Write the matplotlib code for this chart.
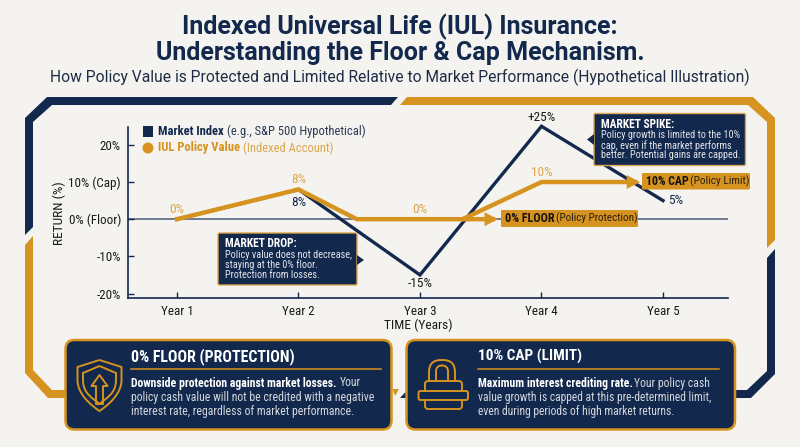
import matplotlib
matplotlib.use('Agg')
import matplotlib.pyplot as plt
from matplotlib import font_manager as fm
from matplotlib.patches import Polygon, FancyBboxPatch, Circle, Rectangle, PathPatch
from matplotlib.path import Path

NAVY = '#12284c'
GOLD = '#d6931f'
LIGHT_GOLD = '#dca64d'
BG = '#f4f3ef'

years = ['Year 1', 'Year 2', 'Year 3', 'Year 4', 'Year 5']
year_x = [1, 2, 3, 4, 5]
market = [0, 8, -15, 25, 5]
policy_x = [1, 2, 2.48, 3.6]
policy = [0, 8, 0, 0]
policy2_x = [3.35, 4, 4.77]
policy2 = [0, 10, 10]
y_ticks = [20, 10, 0, -10, -20]
y_labels = ['20%', '10% (Cap)', '0% (Floor)', '-10%', '-20%']

# narrow face for the small text when there is one
installed = {f.name for f in fm.fontManager.ttflist}
NARROW = next(n for n in ['Roboto Condensed', 'Archivo Narrow', 'Roboto', 'DejaVu Sans'] if n in installed)
plt.rcParams['font.family'] = NARROW

fig = plt.figure(figsize=(8, 4.47), dpi=100, facecolor=BG)
# overlay in pixel coordinates for the frame and boxes
bg = fig.add_axes([0, 0, 1, 1])
bg.set_xlim(0, 800)
bg.set_ylim(447, 0)
bg.axis('off')

# titles
bg.text(400, 27, 'Indexed Universal Life (IUL) Insurance:', color=NAVY, fontsize=18, ha='center', va='center', weight='bold', family='Roboto')
bg.text(400, 53, 'Understanding the Floor & Cap Mechanism.', color=NAVY, fontsize=18, ha='center', va='center', weight='bold', family='Roboto')
bg.text(400, 77, 'How Policy Value is Protected and Limited Relative to Market Performance (Hypothetical Illustration)',
        color='#1d2c44', fontsize=11.25, ha='center', va='center', family='Roboto')

# frame
bg.add_patch(Polygon([(398, 97), (47, 97), (25, 118), (25, 235), (33, 227), (33, 122), (52, 105), (391, 105)], color=NAVY, lw=0))
bg.add_patch(Polygon([(25, 245), (33, 236), (33, 370), (52, 390), (70, 390), (70, 398), (48, 398), (25, 373)], color=GOLD, lw=0))
bg.add_patch(Polygon([(400, 105), (407, 97), (753, 97), (775, 118), (775, 240), (767, 248), (767, 122), (748, 105)], color=GOLD, lw=0))
bg.add_patch(Polygon([(767, 258), (775, 249), (775, 374), (751, 398), (730, 398), (730, 390), (747, 390), (767, 371)], color=NAVY, lw=0))
bg.add_patch(Polygon([(392.5, 389), (399, 389), (395, 396)], color=GOLD, lw=0))
bg.add_patch(Polygon([(400, 398), (405.5, 392), (407, 398)], color=NAVY, lw=0))

# chart
ax = fig.add_axes([128 / 800, 1 - 298 / 447, 600 / 800, 171 / 447])
ax.patch.set_alpha(0)
ax.set_xlim(0.597, 5.535)
ax.set_ylim(-21.2, 24.8)
for s in ['top', 'right']:
    ax.spines[s].set_visible(False)
for s in ['left', 'bottom']:
    ax.spines[s].set_color(NAVY)
    ax.spines[s].set_linewidth(1.2)
ax.set_xticks(year_x, years, fontsize=9.4, color='#1a1a1a')
ax.set_yticks(y_ticks, y_labels, fontsize=9.4, color='#1a1a1a')
ax.tick_params(axis='x', direction='in', length=4, width=1, color=NAVY, pad=5)
ax.tick_params(axis='y', direction='in', length=4, width=1, color=NAVY, pad=5)
ax.set_xlabel('TIME (Years)', fontsize=9.6, color='#1a1a1a', va='center')
ax.xaxis.set_label_coords((418 - 128) / 600, -27 / 171)
ax.set_ylabel('RETURN (%)', fontsize=9.6, color='#1a1a1a', va='center')
ax.yaxis.set_label_coords(-69 / 600, 85 / 171)
ax.axhline(0, color='#5a6780', lw=1.2, zorder=1)

ax.plot(year_x, market, color=NAVY, lw=2.4, solid_joinstyle='miter', clip_on=False, zorder=2)
ax.plot(policy_x, policy, color=GOLD, lw=3.2, solid_joinstyle='miter', zorder=4)
ax.plot(policy2_x, policy2, color=GOLD, lw=3.2, solid_joinstyle='miter', zorder=4)

# arrow heads on the policy line
head = dict(arrowstyle='-|>,head_length=0.95,head_width=0.5', mutation_scale=10, color=GOLD, lw=0, shrinkA=0, shrinkB=0)
ax.annotate('', xy=(3.64, 0), xytext=(3.45, 0), zorder=5, arrowprops=head)
ax.annotate('', xy=(4.81, 10), xytext=(4.6, 10), zorder=5, arrowprops=head)

# value labels
for x, v, s, c, dy in [(1, 0, '0%', LIGHT_GOLD, 7.2), (2, 8, '8%', LIGHT_GOLD, 7.2), (3, 0, '0%', LIGHT_GOLD, 7.2), (4, 10, '10%', LIGHT_GOLD, 7.2),
                       (2, 8, '8%', NAVY, -9.4), (3, -15, '-15%', '#1a1a1a', -6.5), (4, 25, '+25%', '#1a1a1a', 6)]:
    ax.annotate(s, (x, v), xytext=(0, dy), textcoords='offset points', ha='center', va='center', fontsize=9.6, color=c, zorder=7,
                annotation_clip=False)
ax.annotate('5%', (5, 5), xytext=(3.5, 0), textcoords='offset points', ha='left', va='center', fontsize=9.6, color=NAVY)

# overlay for things above the chart
top = fig.add_axes([0, 0, 1, 1])
top.set_xlim(0, 800)
top.set_ylim(447, 0)
top.axis('off')
top.patch.set_alpha(0)

def label(x, y, s, c, size, **kw):
    kw.setdefault('va', 'center')
    kw.setdefault('zorder', 6)
    return top.text(x, y, s, color=c, fontsize=size, **kw)

# legend
top.add_patch(Rectangle((142.5, 126), 10.5, 10.5, color=NAVY, lw=0))
top.add_patch(Circle((148, 148), 5.5, color=GOLD, lw=0))
label(158, 131.5, 'Market Index', NAVY, 9, weight='bold')
label(227, 131.5, '(e.g., S&P 500 Hypothetical)', '#2a3a55', 9)
label(158, 148, 'IUL Policy Value', GOLD, 9, weight='bold')
label(243, 148, '(Indexed Account)', LIGHT_GOLD, 9)

# callouts
def callout(x0, y0, x1, y1, tip):
    top.add_patch(FancyBboxPatch((x0, y0), x1 - x0, y1 - y0, boxstyle='round,pad=0,rounding_size=1.5', fc=NAVY, ec=LIGHT_GOLD, lw=1, zorder=3))
    top.add_patch(Polygon(tip, fc=NAVY, ec='none', zorder=4))

callout(218, 233, 357, 285, [(357, 255), (364, 260), (357, 265)])
label(225, 243.5, 'MARKET DROP:', 'white', 8.3, weight='bold')
for y, s in zip([254.5, 265, 275.5], ['Policy value does not decrease,', 'staying at the 0% floor.', 'Protection from losses.']):
    label(225, y, s, '#e4e6ea', 7.4)

callout(594, 113.5, 745.5, 165.5, [(594, 134), (587, 139.5), (594, 145)])
label(601, 124, 'MARKET SPIKE:', 'white', 8.3, weight='bold')
for y, s in zip([135, 145.5, 155.5], ['Policy growth is limited to the 10%', 'cap, even if the market performs', 'better. Potential gains are capped.']):
    label(601, y, s, '#e4e6ea', 7.4)

# floor and cap tags
top.add_patch(FancyBboxPatch((501, 210), 137, 17, boxstyle='round,pad=0,rounding_size=1.5', fc=GOLD, ec='none', zorder=3))
label(505, 218.5, '0% FLOOR', '#15130f', 8.7, weight='bold')
label(556, 218.5, '(Policy Protection)', '#2a2010', 8)
top.add_patch(FancyBboxPatch((642, 173), 108, 16.5, boxstyle='round,pad=0,rounding_size=1.5', fc=GOLD, ec='none', zorder=3))
label(646, 181.5, '10% CAP', '#15130f', 8.6, weight='bold')
label(690, 181.5, '(Policy Limit)', '#2a2010', 8.2)

# bottom cards
def card(x0, x1):
    top.add_patch(FancyBboxPatch((x0, 340), x1 - x0, 89.5, boxstyle='round,pad=0,rounding_size=9', fc=NAVY, ec=GOLD, lw=1.8, zorder=3))

card(65.5, 391.5)
card(406.5, 735)
label(131, 356.5, '0% FLOOR (PROTECTION)', 'white', 11.4, weight='bold')
top.plot([131, 381], [368.5, 368.5], color=GOLD, lw=1.1, zorder=5)
label(131, 383, 'Downside protection against market losses.', 'white', 8.5, weight='bold')
label(340, 383, 'Your', '#d5d8de', 8.5)
label(131, 397, 'policy cash value will not be credited with a negative', '#d5d8de', 8.5)
label(131, 411.5, 'interest rate, regardless of market performance.', '#d5d8de', 8.5)

label(478, 356.5, '10% CAP (LIMIT)', 'white', 11, weight='bold')
top.plot([478, 719], [368.5, 368.5], color=GOLD, lw=1.1, zorder=5)
label(478, 383, 'Maximum interest crediting rate.', 'white', 8.5, weight='bold')
label(634, 383, 'Your policy cash', '#d5d8de', 8.5)
label(478, 397, 'value growth is capped at this pre-determined limit,', '#d5d8de', 8.4)
label(478, 411.5, 'even during periods of high market returns.', '#d5d8de', 8.4)

# shield icon, straight top edges with a curved lower part
def shield(cx, ytop, half, side, tip):
    verts = [(cx, ytop), (cx - half, ytop + 7), (cx - half, side),
             (cx - half, side + 14), (cx - half * 0.4, tip - 6), (cx, tip),
             (cx + half * 0.4, tip - 6), (cx + half, side + 14), (cx + half, side),
             (cx + half, ytop + 7), (cx, ytop)]
    codes = [Path.MOVETO, Path.LINETO, Path.LINETO, Path.CURVE4, Path.CURVE4, Path.CURVE4,
             Path.CURVE4, Path.CURVE4, Path.CURVE4, Path.LINETO, Path.LINETO]
    return PathPatch(Path(verts, codes), fc='none', ec=GOLD, lw=1.4, zorder=5)

top.add_patch(shield(99.5, 360, 22, 380, 411))
top.add_patch(shield(99.5, 366, 16.5, 380, 404))
arrow = [(99.5, 375), (107.5, 386), (103, 386), (103, 404), (96, 404), (96, 386), (91.5, 386)]
top.add_patch(Polygon(arrow, fc='none', ec=GOLD, lw=1.4, joinstyle='round', zorder=5))

# lock icon
top.add_patch(FancyBboxPatch((425, 381), 37, 28, boxstyle='round,pad=0,rounding_size=3', fc='none', ec=GOLD, lw=1.4, zorder=5))
top.add_patch(FancyBboxPatch((418.5, 391), 49.5, 9, boxstyle='round,pad=0,rounding_size=2', fc=NAVY, ec=GOLD, lw=1.4, zorder=6))
top.add_patch(FancyBboxPatch((429, 360), 26, 40, boxstyle='round,pad=0,rounding_size=12', fc='none', ec=GOLD, lw=1.4, zorder=4))
top.add_patch(FancyBboxPatch((436, 365.5), 12, 30, boxstyle='round,pad=0,rounding_size=6', fc='none', ec=GOLD, lw=1.4, zorder=4))
top.add_patch(Rectangle((427, 382), 33, 26, fc=NAVY, ec='none', zorder=4.5))

fig.savefig('out.png', dpi=100, facecolor=BG)
